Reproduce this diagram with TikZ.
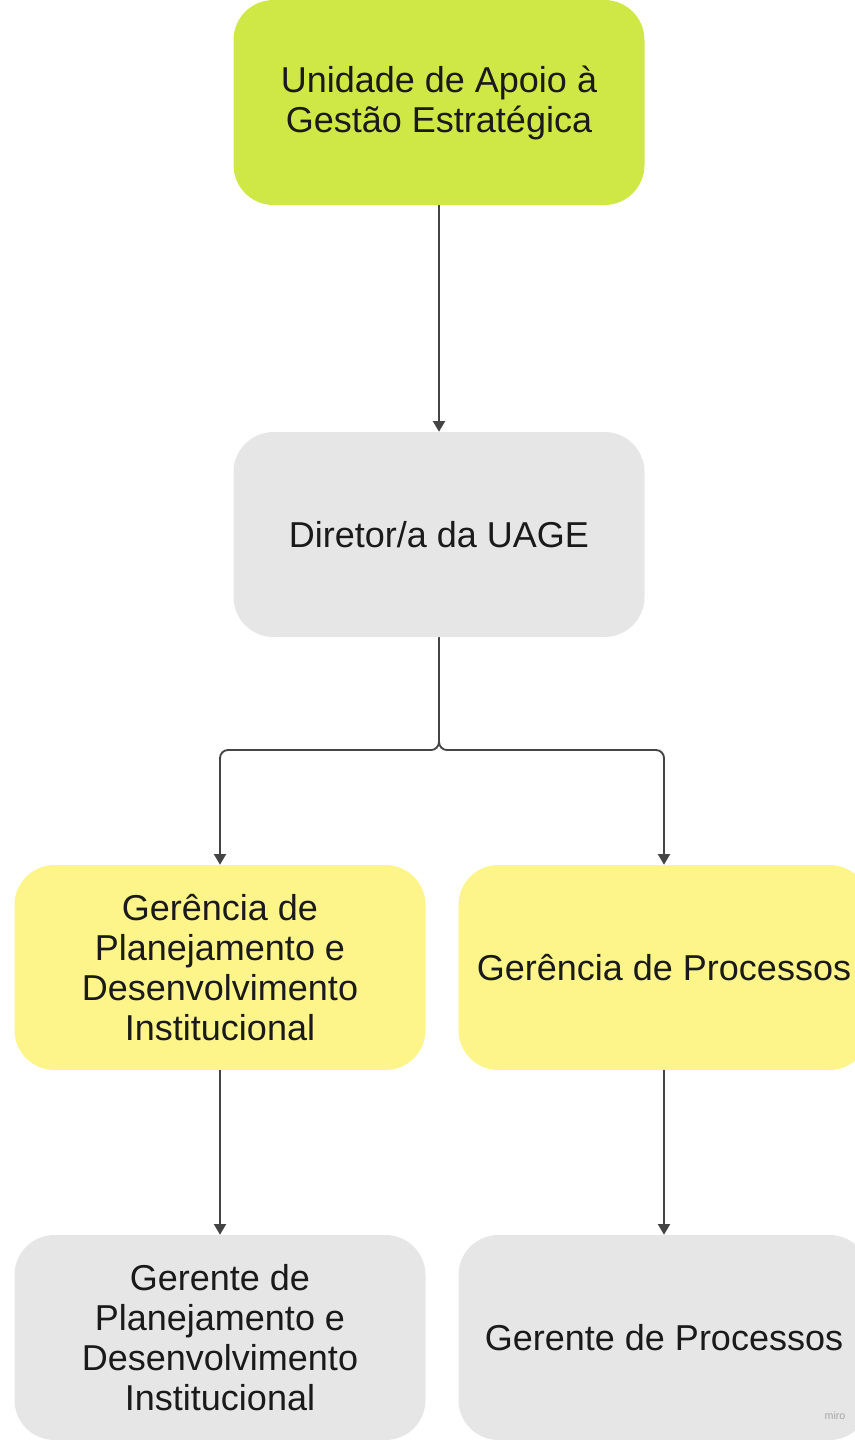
\documentclass[tikz,border=0pt]{standalone}
\usepackage{fontspec}
\setmainfont{Liberation Sans}
\usetikzlibrary{arrows.meta}
\definecolor{uagegreen}{HTML}{CFE845}
\definecolor{geryellow}{HTML}{FDF58A}
\definecolor{boxgray}{HTML}{E6E6E6}
\definecolor{textdark}{HTML}{1A1A1A}
\definecolor{linegray}{HTML}{444444}
\tikzset{
  orgbox/.style={rounded corners=30pt,minimum width=308.25pt,minimum height=153.75pt,
    align=center,text=textdark,font=\fontsize{27}{30}\selectfont,inner sep=0pt},
  conn/.style={draw=linegray,line width=1.4pt,-{Triangle[length=8pt,width=9pt]}}
}
\begin{document}
\begin{tikzpicture}[x=0.75pt,y=-0.75pt,line join=round]
\useasboundingbox (0,0) rectangle (854,1440);
\node[orgbox,fill=uagegreen] (uage) at (439,102.5) {Unidade de Apoio à\\Gestão Estratégica};
\node[orgbox,fill=boxgray] (dir) at (439,534.5) {Diretor/a da UAGE};
\node[orgbox,fill=geryellow] (gpdi) at (220,967.5) {Gerência de\\Planejamento e\\Desenvolvimento\\Institucional};
\node[orgbox,fill=geryellow] (gproc) at (664,967.5) {Gerência de Processos};
\node[orgbox,fill=boxgray] (rpdi) at (220,1337.5) {Gerente de\\Planejamento e\\Desenvolvimento\\Institucional};
\node[orgbox,fill=boxgray] (rproc) at (664,1337.5) {Gerente de Processos};
\node[font=\fontsize{8}{8}\selectfont,text=black!35] (miro) at (835,1416) {miro};
\coordinate (split) at (439,750);
\draw[conn] (uage) -- (dir);
\draw[conn,rounded corners=6pt] (dir.south) -- (split) -| (gpdi.north);
\draw[conn,rounded corners=6pt] (dir.south) -- (split) -| (gproc.north);
\draw[conn] (gpdi) -- (rpdi);
\draw[conn] (gproc) -- (rproc);
\end{tikzpicture}
\end{document}
